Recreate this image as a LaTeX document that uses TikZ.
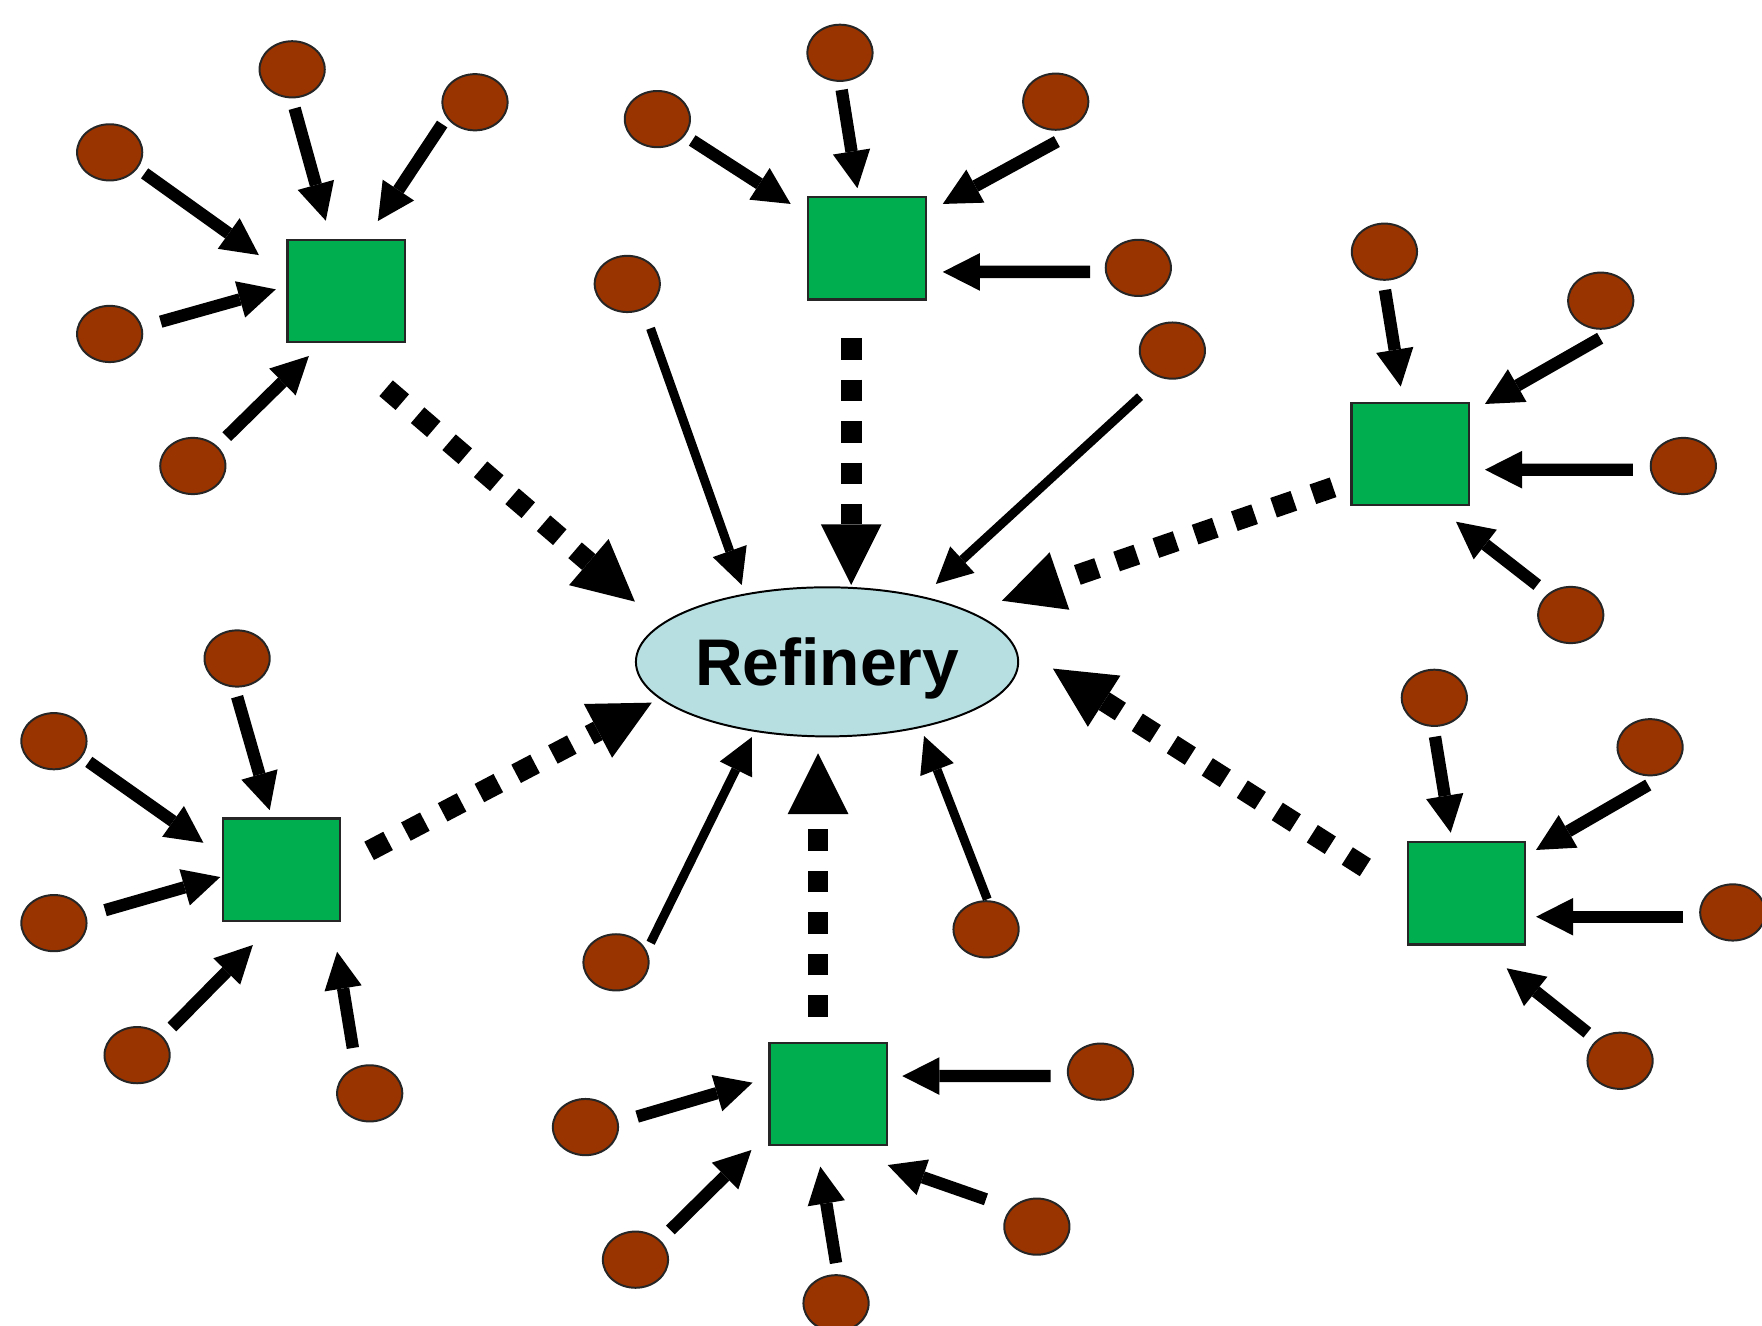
\documentclass[tikz,border=0pt]{standalone}
\usepackage{fontspec}
\setmainfont{Liberation Sans}
\usetikzlibrary{arrows.meta,calc,shapes.geometric}
\definecolor{wellbrown}{HTML}{993300}
\definecolor{tankgreen}{HTML}{00AE4F}
\definecolor{refblue}{HTML}{B7DFE2}
\newcommand\feedarrow[5][feed]{\draw[#1] ($(#2)+(#3)$) -- ($(#4)+(#5)$);}
\begin{document}
\begin{tikzpicture}[x=0.01cm,y=-0.01cm,
  oval/.style={ellipse,draw=black!85,line width=0.5pt,fill=wellbrown,minimum width=0.58cm,minimum height=0.5cm,inner sep=0pt},
  tank/.style={rectangle,draw=black!85,line width=0.6pt,fill=tankgreen,minimum width=1.045cm,minimum height=0.91cm,inner sep=0pt},
  refinery/.style={ellipse,draw=black,line width=0.5pt,fill=refblue,minimum width=3.4cm,minimum height=1.326cm,inner sep=0pt,text depth=0pt,font=\fontsize{16.7}{19}\selectfont\bfseries},
  feed/.style={line width=0.11cm,-{Triangle[length=0.33cm,width=0.335cm,line width=0pt]}},
  thinfeed/.style={line width=0.08cm,-{Triangle[length=0.32cm,width=0.32cm,line width=0pt]}},
  bigfeed/.style={line width=0.184cm,dash pattern=on 0.19cm off 0.179cm,-{Triangle[length=0.54cm,width=0.54cm,line width=0pt]}}]
\useasboundingbox (0,0) rectangle (1568,1180);
% refinery
\node[refinery] (R) at (736,589) {Refinery};
% tanks
\node[tank] (s1) at (308,259) {};
\node[tank] (s2) at (771.5,221) {};
\node[tank] (s3) at (1255,404) {};
\node[tank] (s4) at (250.5,774) {};
\node[tank] (s5) at (1305,795) {};
\node[tank] (s6) at (737,973.5) {};
% wells
\node[oval] (o11) at (260,61.7) {};
\node[oval] (o12) at (422.7,91) {};
\node[oval] (o13) at (97.6,135.6) {};
\node[oval] (o14) at (97.6,297.2) {};
\node[oval] (o15) at (171.6,414.7) {};
\node[oval] (o21) at (747.5,47) {};
\node[oval] (o22) at (585,106) {};
\node[oval] (o23) at (939.5,90.5) {};
\node[oval] (o24) at (1013,238.4) {};
\node[oval] (o31) at (1232,224) {};
\node[oval] (o32) at (1424.5,267.6) {};
\node[oval] (o33) at (1498,414.7) {};
\node[oval] (o34) at (1397.8,547.3) {};
\node[oval] (o41) at (211,586) {};
\node[oval] (o42) at (48,659.6) {};
\node[oval] (o43) at (48,821.5) {};
\node[oval] (o44) at (122,939) {};
\node[oval] (o45) at (329,973) {};
\node[oval] (o51) at (1276.4,621) {};
\node[oval] (o52) at (1468.4,665) {};
\node[oval] (o53) at (1542,812) {};
\node[oval] (o54) at (1441.7,944) {};
\node[oval] (o61) at (979.3,953.7) {};
\node[oval] (o62) at (521,1003) {};
\node[oval] (o63) at (565.5,1121) {};
\node[oval] (o64) at (744,1159.8) {};
\node[oval] (o65) at (922.7,1091.6) {};
\node[oval] (oA) at (558.2,252.7) {};
\node[oval] (oB) at (1043.3,312) {};
\node[oval] (oC) at (548.2,856.4) {};
\node[oval] (oD) at (877.5,827) {};
% well -> tank
\feedarrow{o11}{2.2,34.7}{s1}{-18.1,-62.6}
\feedarrow{o12}{-29.2,19.4}{s1}{28.3,-62.3}
\feedarrow{o13}{31.1,18.7}{s1}{-77.6,-32}
\feedarrow{o14}{45.4,-10.9}{s1}{-62.6,-1.5}
\feedarrow{o15}{30.2,-26.1}{s1}{-33.1,57.8}
\feedarrow{o21}{1.5,33}{s2}{-8.5,-53.5}
\feedarrow{o22}{31,19}{s2}{-67.9,-39.5}
\feedarrow{o23}{1,35.5}{s2}{67.5,-39.5}
\feedarrow{o24}{-43,3.6}{s2}{67.5,21}
\feedarrow{o31}{0.5,34}{s3}{-8.5,-60}
\feedarrow{o32}{-0.5,33.4}{s3}{66.5,-44.5}
\feedarrow{o33}{-45,3.3}{s3}{66.5,14}
\feedarrow{o34}{-29.8,-26.7}{s3}{40.7,60.3}
\feedarrow{o41}{0,34}{s4}{-10.5,-53}
\feedarrow{o42}{31,18.4}{s4}{-69.5,-24}
\feedarrow{o43}{45.5,-11.5}{s4}{-54.5,6.5}
\feedarrow{o44}{31,-25}{s4}{-25.5,67}
\feedarrow{o45}{-15,-40.4}{s4}{49.5,73}
\feedarrow{o51}{0.6,34.6}{s5}{-14,-54}
\feedarrow{o52}{-1.6,33.6}{s5}{61.9,-38.6}
\feedarrow{o53}{-44,3.8}{s5}{62,20.8}
\feedarrow{o54}{-29.1,-25}{s5}{35.8,66.7}
\feedarrow{o61}{-44.3,3.9}{s6}{66,-15.9}
\feedarrow{o62}{46,-9.3}{s6}{-67.3,-10}
\feedarrow{o63}{31.1,-26.4}{s6}{-68.3,49.9}
\feedarrow{o64}{0,-35.8}{s6}{-7,64.7}
\feedarrow{o65}{-45.3,-24.3}{s6}{53,63.3}
% well -> refinery
\feedarrow[thinfeed]{oA}{20.7,39.5}{R}{-75.9,-68.4}
\feedarrow[thinfeed]{oB}{-28.8,41}{R}{96.8,-69.3}
\feedarrow[thinfeed]{oC}{30.8,-17.4}{R}{-67,67}
\feedarrow[thinfeed]{oD}{1.1,-26.7}{R}{86.3,66}
% tank -> refinery
\feedarrow[bigfeed]{s1}{35.6,86.5}{R}{-171,-53.6}
\feedarrow[bigfeed]{s2}{-14,80}{R}{21.5,-68.4}
\feedarrow[bigfeed]{s3}{-68.7,29.7}{R}{155.7,-54.4}
\feedarrow[bigfeed]{s4}{78,-16.8}{R}{-156,36.3}
\feedarrow[bigfeed]{s5}{-90,-23}{R}{201,6}
\feedarrow[bigfeed]{s6}{-9,-68.9}{R}{-8,81.4}
\end{tikzpicture}
\end{document}
